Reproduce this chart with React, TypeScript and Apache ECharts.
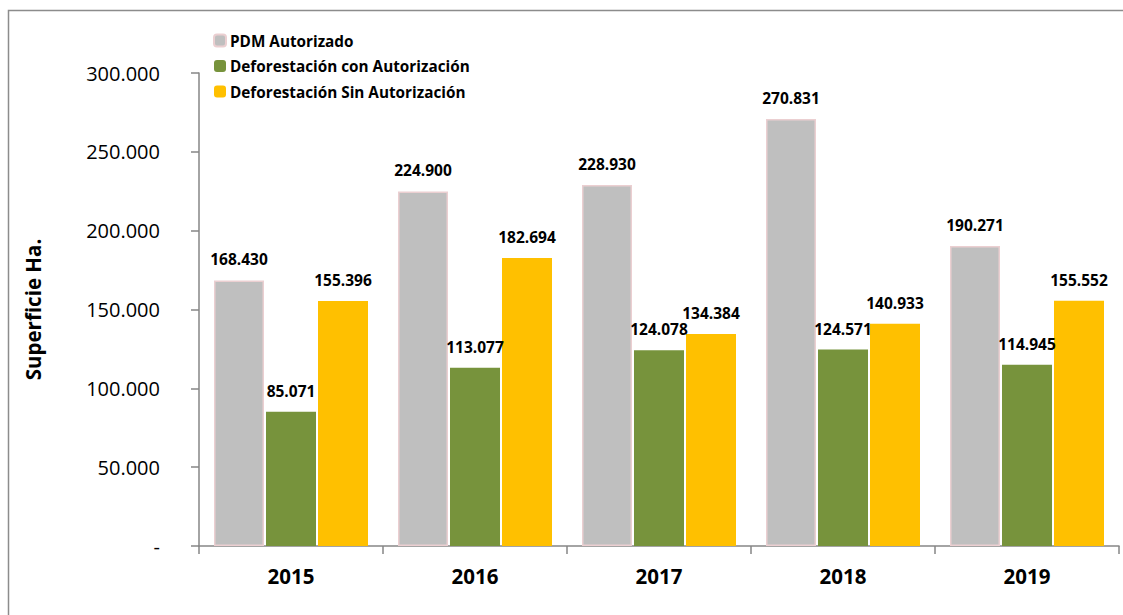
import React, { useEffect, useRef } from "react";
import * as echarts from "echarts";

const years = ["2015", "2016", "2017", "2018", "2019"];
const pdmAutorizado = [168430, 224900, 228930, 270831, 190271];
const deforestacionCon = [85071, 113077, 124078, 124571, 114945];
const deforestacionSin = [155396, 182694, 134384, 140933, 155552];
const yTicks = [0, 50000, 100000, 150000, 200000, 250000, 300000];

const fmt = (v: number) => {
  if (v === 0) return "-";
  const s = Math.round(v).toString();
  return s.replace(/\B(?=(\d{3})+(?!\d))/g, ".");
};

const FONT = "'Open Sans', Lato, sans-serif";

export default function App() {
  const ref = useRef<HTMLDivElement>(null);
  useEffect(() => {
    if (!ref.current) return;
    const chart = echarts.init(ref.current, undefined, { renderer: "svg" });
    const label = {
      show: true,
      position: "top" as const,
      distance: 13,
      fontFamily: FONT,
      fontWeight: "bold" as const,
      fontSize: 15.5,
      color: "#000",
      formatter: (p: any) => fmt(p.value),
    };
    chart.setOption({
      animation: false,
      textStyle: { fontFamily: FONT },
      graphic: [
        {
          type: "rect",
          shape: { x: 8.5, y: 10.5, width: 1200, height: 700 },
          style: { fill: "none", stroke: "#8c8c8c", lineWidth: 1.5 },
          silent: true,
        },
      ],
      legend: {
        orient: "vertical",
        left: 213,
        top: 33,
        padding: 0,
        itemWidth: 12,
        itemHeight: 12,
        itemGap: 10.5,
        textStyle: { fontFamily: FONT, fontWeight: "bold", fontSize: 15.3, color: "#000", padding: [0, 0, 0, -1] },
        data: ["PDM Autorizado", "Deforestación con Autorización", "Deforestación Sin Autorización"],
      },
      grid: { left: 199, right: 4, top: 73, bottom: 69, containLabel: false },
      xAxis: {
        type: "category",
        data: years,
        axisLine: { lineStyle: { color: "#868686", width: 1.5 } },
        axisTick: { show: true, length: 8, inside: false, lineStyle: { color: "#868686", width: 1.5 } },
        axisLabel: { fontFamily: FONT, fontWeight: "bold", fontSize: 20.5, color: "#000", margin: 19 },
      },
      yAxis: {
        type: "value",
        min: 0,
        max: 300000,
        interval: 50000,
        name: "Superficie Ha.",
        nameLocation: "middle",
        nameGap: 156,
        nameTextStyle: { fontFamily: FONT, fontWeight: "bold", fontSize: 20.5, color: "#000" },
        axisLine: { show: true, lineStyle: { color: "#868686", width: 1.5 } },
        axisTick: { show: true, length: 8, lineStyle: { color: "#868686", width: 1.5 } },
        splitLine: { show: false },
        axisLabel: {
          fontFamily: FONT,
          fontSize: 20,
          color: "#000",
          margin: 39,
          formatter: (v: number) => (yTicks.includes(v) ? fmt(v) : ""),
        },
      },
      series: [
        {
          name: "PDM Autorizado",
          type: "bar",
          data: pdmAutorizado,
          barWidth: 50,
          barGap: "4%",
          itemStyle: { color: "#BFBFBF", borderColor: "#EBCFD1", borderWidth: 1.5 },
          label,
        },
        {
          name: "Deforestación con Autorización",
          type: "bar",
          data: deforestacionCon,
          barWidth: 50,
          barGap: "4%",
          itemStyle: { color: "#77933C" },
          label,
        },
        {
          name: "Deforestación Sin Autorización",
          type: "bar",
          data: deforestacionSin,
          barWidth: 50,
          barGap: "4%",
          itemStyle: { color: "#FFC000" },
          label,
        },
      ],
    });
    return () => chart.dispose();
  }, []);
  return (
    <div
      ref={ref}
      style={{ position: "fixed", left: 0, top: 0, width: 1123, height: 615, background: "#fff" }}
    />
  );
}
